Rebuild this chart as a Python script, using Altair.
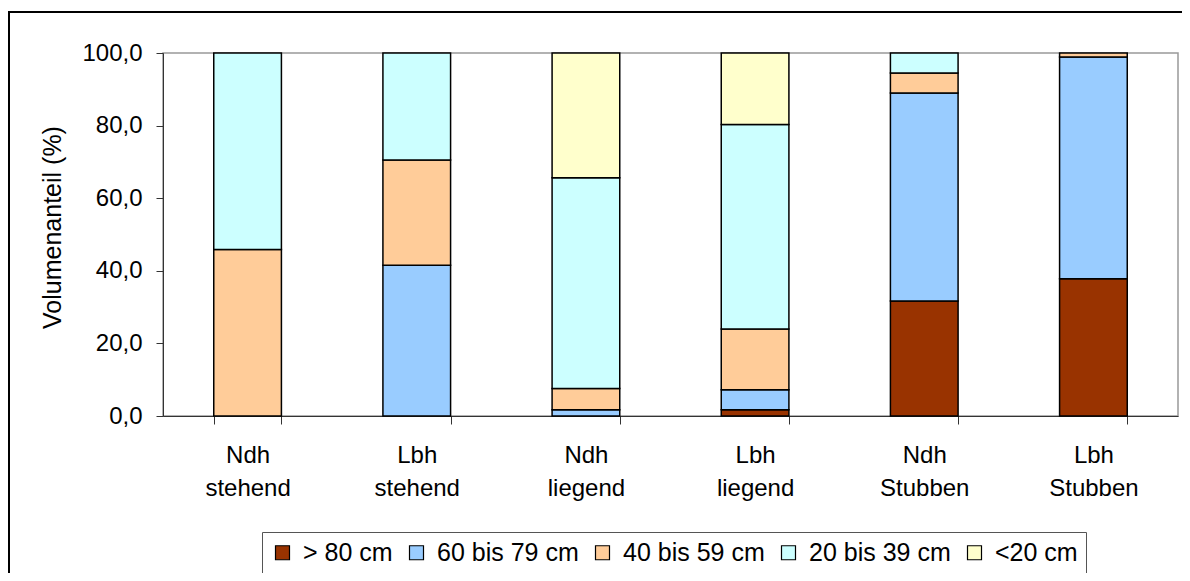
import altair as alt
import pandas as pd

categories = ["Ndh\nstehend", "Lbh\nstehend", "Ndh\nliegend",
              "Lbh\nliegend", "Ndh\nStubben", "Lbh\nStubben"]
series = ["> 80 cm", "60 bis 79 cm", "40 bis 59 cm", "20 bis 39 cm", "<20 cm"]
colors = ["#993300", "#99CCFF", "#FFCC99", "#CCFFFF", "#FFFFCC"]

v_gt80 = [0.0, 0.0, 0.0, 1.7, 31.7, 37.8]
v_60_79 = [0.0, 41.5, 1.7, 5.5, 57.3, 61.1]
v_40_59 = [45.9, 29.0, 5.9, 16.8, 5.5, 1.1]
v_20_39 = [54.1, 29.5, 58.0, 56.3, 5.5, 0.0]
v_lt20 = [0.0, 0.0, 34.4, 19.7, 0.0, 0.0]

y_ticks = [0, 20, 40, 60, 80, 100]

rows = []
for si, (name, vals) in enumerate(zip(series, [v_gt80, v_60_79, v_40_59, v_20_39, v_lt20])):
    for c, v in zip(categories, vals):
        if v > 0:
            rows.append({"cat": c, "series": name, "ord": si, "value": v})
df = pd.DataFrame(rows)

W, H = 1015, 363
FONT = "Liberation Sans"

bars = alt.Chart(df).mark_bar(stroke="black", strokeWidth=1.5).encode(
    x=alt.X("cat:N", sort=categories, title=None,
            scale=alt.Scale(paddingInner=0.6, paddingOuter=0.3),
            axis=alt.Axis(labelExpr="split(datum.label, '\\n')", labelAngle=0,
                          tickBand="extent", tickSize=8, labelPadding=19,
                          labelLineHeight=33, labelFontSize=24)),
    y=alt.Y("value:Q", stack="zero",
            scale=alt.Scale(domain=[0, 100], nice=False),
            axis=alt.Axis(values=y_ticks,
                          labelExpr="replace(format(datum.value, '.1f'), '.', ',')",
                          tickSize=7, labelPadding=14, labelFontSize=24,
                          title="Volumenanteil (%)", titleFontSize=25,
                          titleFontWeight="normal", titleX=-111, titleY=174,
                          titleAngle=270, titleBaseline="middle", titleAlign="center")),
    color=alt.Color("series:N", scale=alt.Scale(domain=series, range=colors),
                    legend=alt.Legend(title=None, orient="none", legendX=99, legendY=479,
                                      direction="horizontal", strokeColor="#555555",
                                      padding=8, symbolType="square", symbolSize=196,
                                      symbolStrokeColor="black", symbolStrokeWidth=1.2,
                                      symbolOpacity=1, labelFontSize=25, labelOffset=8,
                                      columnPadding=11, labelColor="black", labelLimit=400)),
    order=alt.Order("ord:Q", sort="ascending"),
)

border = alt.Chart(pd.DataFrame({"k": [0]})).mark_rect(
    fill="transparent", stroke="black", strokeWidth=2
).encode(x=alt.value(-154), x2=alt.value(1100), y=alt.value(-41), y2=alt.value(700))

chart = alt.layer(border, bars).properties(
    width=W, height=H,
    autosize=alt.AutoSizeParams(type="none"),
    padding={"left": 155, "top": 45, "right": 4, "bottom": 157},
    background="white",
).configure(font=FONT).configure_view(
    stroke="#999999", strokeWidth=1.5
).configure_axis(
    grid=False, labelColor="black", titleColor="black", tickColor="#333333",
    domainColor="#333333", labelFont=FONT, titleFont=FONT
).configure_legend(labelFont=FONT)

chart.save("out.html", embed_options={"renderer": "svg", "actions": False})
